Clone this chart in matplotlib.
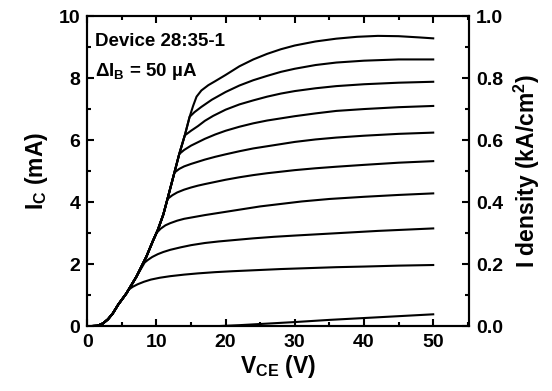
import matplotlib
matplotlib.use("Agg")
import matplotlib.pyplot as plt
from matplotlib.ticker import MultipleLocator

plt.rcParams['font.family'] = ['Liberation Sans', 'DejaVu Sans']
plt.rcParams['font.weight'] = 'bold'
plt.rcParams['mathtext.default'] = 'regular'

# shared rising (saturation) envelope
env_v = [0.5, 1.5, 2.3, 3.0, 3.7, 4.5, 5.65, 7.1, 8.55, 9.5, 10.2, 11.0, 11.6, 12.6, 13.3, 14.1, 14.8, 15.3]
env_i = [0.0, 0.01, 0.09, 0.22, 0.41, 0.70, 1.05, 1.59, 2.24, 2.75, 3.1, 3.6, 4.1, 4.95, 5.55, 6.15, 6.75, 7.1]

# individual curves after their knee (IB step = 50 uA)
c1_v = [6.0, 6.6, 7.3, 8.2, 9.2, 10.5, 12, 14, 16, 18.5, 21, 24, 28, 32, 36, 40, 45, 50]
c1_i = [1.18, 1.27, 1.35, 1.43, 1.5, 1.56, 1.61, 1.66, 1.7, 1.74, 1.77, 1.8, 1.84, 1.87, 1.9, 1.92, 1.95, 1.97]
c2_v = [8.3, 8.8, 9.4, 10.2, 11, 12, 13.5, 15, 17, 19, 21, 24, 27, 30, 34, 38, 42, 46, 50]
c2_i = [2.05, 2.14, 2.23, 2.32, 2.39, 2.46, 2.54, 2.61, 2.68, 2.73, 2.77, 2.83, 2.88, 2.92, 2.97, 3.02, 3.07, 3.11, 3.15]
c3_v = [10.0, 10.6, 11.3, 12, 13, 14, 15.5, 17, 19, 21, 23, 25, 28, 31, 35, 40, 45, 50]
c3_i = [3.0, 3.14, 3.25, 3.32, 3.4, 3.46, 3.52, 3.58, 3.65, 3.72, 3.79, 3.86, 3.94, 4.02, 4.1, 4.17, 4.23, 4.28]
c4_v = [11.6, 12.3, 13, 14, 15, 16, 17, 18.5, 20, 22, 24, 26, 28, 30, 33, 36, 40, 45, 50]
c4_i = [4.1, 4.22, 4.31, 4.4, 4.47, 4.53, 4.58, 4.65, 4.72, 4.8, 4.87, 4.93, 4.98, 5.03, 5.09, 5.14, 5.2, 5.27, 5.32]
c5_v = [12.6, 13.3, 14, 15, 16, 17, 18.5, 20, 22, 24, 26, 28, 30, 33, 36, 40, 45, 50]
c5_i = [4.95, 5.07, 5.15, 5.23, 5.3, 5.37, 5.46, 5.54, 5.64, 5.73, 5.8, 5.87, 5.94, 6.02, 6.08, 6.14, 6.2, 6.24]
c6_v = [13.3, 14, 15, 16, 17, 18.5, 20, 22, 24, 26, 28, 30, 33, 36, 40, 45, 50]
c6_i = [5.55, 5.68, 5.82, 5.93, 6.04, 6.18, 6.3, 6.43, 6.54, 6.63, 6.7, 6.77, 6.86, 6.94, 7.0, 7.06, 7.10]
c7_v = [14.1, 15, 16, 17, 18.2, 20, 22, 24, 26, 28, 30, 33, 36, 40, 45, 50]
c7_i = [6.15, 6.3, 6.45, 6.62, 6.78, 6.98, 7.15, 7.28, 7.4, 7.5, 7.58, 7.67, 7.74, 7.8, 7.85, 7.88]
c8_v = [14.8, 15.5, 16.5, 18, 20, 22, 24, 26, 28, 30, 33, 36, 40, 45, 50]
c8_i = [6.75, 6.9, 7.07, 7.3, 7.55, 7.76, 7.93, 8.07, 8.2, 8.3, 8.42, 8.5, 8.56, 8.6, 8.6]
c9_v = [15.3, 15.8, 16.5, 17.5, 18.5, 20, 22, 24, 26, 28, 30, 33, 36, 39, 42, 45, 48, 50]
c9_i = [7.1, 7.4, 7.6, 7.77, 7.9, 8.1, 8.38, 8.6, 8.78, 8.93, 9.05, 9.18, 9.27, 9.33, 9.36, 9.35, 9.31, 9.28]
c0_v = [0.5, 10, 19, 22, 26, 30, 35, 40, 45, 50]
c0_i = [0, 0, 0, 0.03, 0.08, 0.13, 0.2, 0.26, 0.32, 0.38]

curves = [(c1_v, c1_i), (c2_v, c2_i), (c3_v, c3_i), (c4_v, c4_i), (c5_v, c5_i),
          (c6_v, c6_i), (c7_v, c7_i), (c8_v, c8_i), (c9_v, c9_i)]

x_ticks = [0, 10, 20, 30, 40, 50]
y_ticks = [0, 2, 4, 6, 8, 10]
y2_ticks = [0.0, 0.2, 0.4, 0.6, 0.8, 1.0]

fig = plt.figure(figsize=(5.52, 3.91), dpi=100)
ax = fig.add_axes([0.158, 0.166, 0.692, 0.793])

lw = 1.5
for cv, ci in curves:
    vv = [v for v in env_v if v < cv[0]] + cv
    ii = [i for v, i in zip(env_v, env_i) if v < cv[0]] + ci
    ax.plot(vv, ii, color='black', lw=lw, solid_joinstyle='round')
ax.plot(c0_v, c0_i, color='black', lw=lw)

ax.set_xlim(0, 55.2)
ax.set_ylim(0, 10)
ax.set_xticks(x_ticks)
ax.set_yticks(y_ticks)
ax.xaxis.set_minor_locator(MultipleLocator(5))
ax.yaxis.set_minor_locator(MultipleLocator(1))
ax.tick_params(which='both', direction='in', top=True, width=1.5, labelsize=14, pad=6)
ax.tick_params(which='major', length=5)
ax.tick_params(which='minor', length=3)
ax.tick_params(axis='y', right=False, pad=5)
for lab in ax.get_xticklabels() + ax.get_yticklabels():
    lab.set_fontweight('bold')
for s in ax.spines.values():
    s.set_linewidth(1.5)

ax.set_xlabel('V$_{CE}$ (V)', fontsize=16.5, fontweight='bold', labelpad=1)
ax.set_ylabel('I$_{C}$ (mA)', fontsize=16.5, fontweight='bold', labelpad=6)

ax2 = ax.twinx()
ax2.set_ylim(0, 1.0)
ax2.set_yticks(y2_ticks)
ax2.yaxis.set_minor_locator(MultipleLocator(0.1))
ax2.tick_params(which='both', direction='in', width=1.5, labelsize=14, pad=5)
ax2.tick_params(which='major', length=5)
ax2.tick_params(which='minor', length=3)
ax2.set_yticklabels([f'{t:.1f}' for t in y2_ticks], fontweight='bold')
ax2.set_ylabel('I density (kA/cm$^{2}$)', fontsize=16.5, fontweight='bold', labelpad=6)
for s in ax2.spines.values():
    s.set_linewidth(1.5)

ax.text(0.02, 0.945, 'Device 28:35-1', transform=ax.transAxes, fontsize=13.5,
        fontweight='bold', va='top', ha='left')
ax.text(0.02, 0.855, '\u0394I$_{B}$ = 50 \u00b5A', transform=ax.transAxes, fontsize=13.5,
        fontweight='bold', va='top', ha='left')

fig.savefig('out.png', dpi=100)
